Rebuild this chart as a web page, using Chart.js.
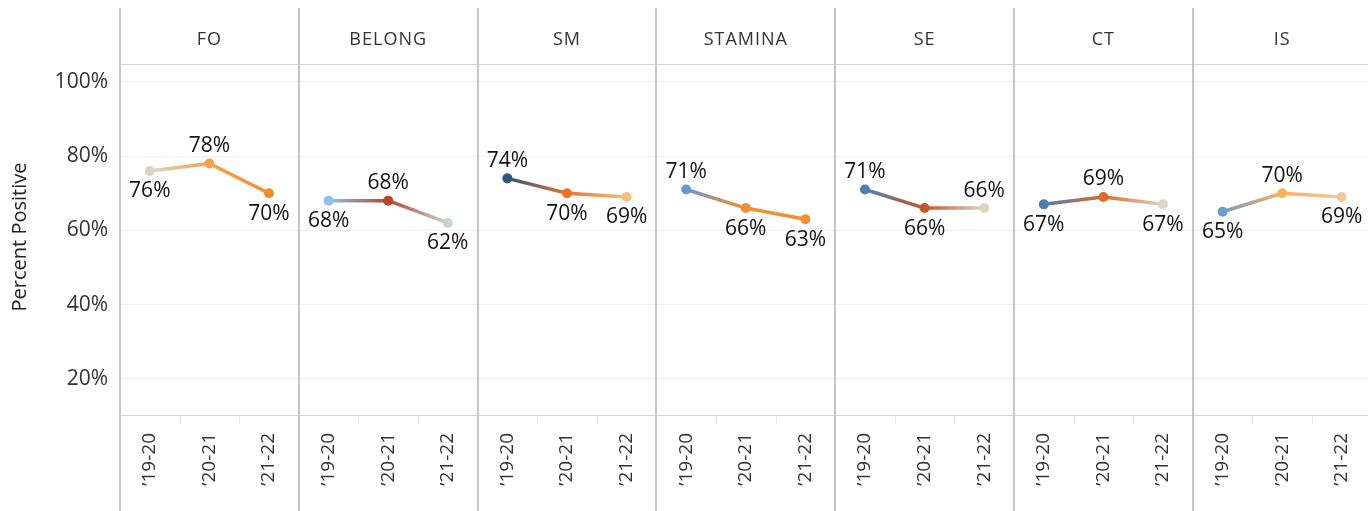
<!DOCTYPE html>
<html>
<head>
<meta charset="utf-8">
<title>Percent Positive by measure</title>
<script src="https://cdn.jsdelivr.net/npm/chart.js@4"></script>
<style>
    html, body { margin: 0; padding: 0; background: #fff; overflow: hidden; }
    canvas { display: block; }
</style>
</head>
<body>
<canvas id="panelChart" width="1368" height="511"></canvas>
<script>
// Measures (one panel each) and school years
const panels = ['FO', 'BELONG', 'SM', 'STAMINA', 'SE', 'CT', 'IS'];
const years = ['\u201919-20', '\u201920-21', '\u201921-22'];

// Percent positive per measure, by year
const FO = [76, 78, 70];
const BELONG = [68, 68, 62];
const SM = [74, 70, 69];
const STAMINA = [71, 66, 63];
const SE = [71, 66, 66];
const CT = [67, 69, 67];
const IS = [65, 70, 69];

const yTicks = [20, 40, 60, 80, 100];

const series = { FO, BELONG, SM, STAMINA, SE, CT, IS };

// Mark colours (orange-blue diverging palette)
const pointColors = {
    FO: ['#d9d4c7', '#f7a04a', '#f28e2b'],
    BELONG: ['#8fc1e3', '#b7472a', '#c8d4d2'],
    SM: ['#2a5783', '#e8742a', '#f8c07e'],
    STAMINA: ['#6599c9', '#f38f30', '#f58f35'],
    SE: ['#4a80b3', '#c9552a', '#ddd3bd'],
    CT: ['#4a7fb2', '#e0682a', '#dcd6c8'],
    IS: ['#6b9fca', '#fbb25e', '#efca9b'],
};

// 1 = label under the point, -1 = label above it
const labelSide = {
    FO: [1, -1, 1],
    BELONG: [1, -1, 1],
    SM: [-1, 1, 1],
    STAMINA: [-1, 1, 1],
    SE: [-1, 1, -1],
    CT: [1, -1, 1],
    IS: [1, -1, 1],
};

const FONT = '"Open Sans", "DejaVu Sans", sans-serif';
const canvas = document.getElementById('panelChart');
const g2d = canvas.getContext('2d');

function segGradient(ctx, colors) {
    const grad = g2d.createLinearGradient(ctx.p0.x, ctx.p0.y, ctx.p1.x, ctx.p1.y);
    grad.addColorStop(0, colors[ctx.p0DataIndex]);
    grad.addColorStop(1, colors[ctx.p1DataIndex]);
    return grad;
}

const datasets = panels.map((name, p) => ({
    label: name,
    data: series[name].map((v, j) => ({ x: p * 3 + j, y: v })),
    pointBackgroundColor: pointColors[name],
    pointBorderColor: pointColors[name],
    pointRadius: 5,
    pointBorderWidth: 0,
    borderWidth: 3.5,
    borderColor: pointColors[name][0],
    segment: { borderColor: ctx => segGradient(ctx, pointColors[name]) },
}));

// Panel frame, headers and y-axis title
const framePlugin = {
    id: 'frame',
    beforeDatasetsDraw(chart) {
        const { ctx, chartArea: a, scales: { x } } = chart;
        ctx.save();
        ctx.strokeStyle = '#d6d6d6';
        ctx.lineWidth = 1;
        ctx.beginPath();
        ctx.moveTo(a.left, a.top + 0.5); ctx.lineTo(a.right, a.top + 0.5);
        ctx.moveTo(a.left, a.bottom - 0.5); ctx.lineTo(a.right, a.bottom - 0.5);
        ctx.stroke();

        // faint band ticks between years
        ctx.strokeStyle = '#ececec';
        ctx.beginPath();
        panels.forEach((_, p) => {
            [0.5, 1.5].forEach(o => {
                const px = Math.round(x.getPixelForValue(p * 3 + o)) + 0.5;
                ctx.moveTo(px, a.bottom); ctx.lineTo(px, a.bottom + 8);
            });
        });
        ctx.stroke();

        // panel separators
        ctx.strokeStyle = '#c6c6c6';
        ctx.lineWidth = 2;
        ctx.beginPath();
        panels.forEach((_, p) => {
            const px = Math.round(x.getPixelForValue(p * 3 - 0.5));
            ctx.moveTo(px, 8); ctx.lineTo(px, chart.height);
        });
        ctx.stroke();

        // headers
        ctx.fillStyle = '#333';
        ctx.font = '18px ' + FONT;
        ctx.textAlign = 'center';
        ctx.textBaseline = 'alphabetic';
        if ('letterSpacing' in ctx) ctx.letterSpacing = '1px';
        panels.forEach((name, p) => {
            ctx.fillText(name, x.getPixelForValue(p * 3 + 1), 45);
        });
        if ('letterSpacing' in ctx) ctx.letterSpacing = '0px';

        // y-axis title
        ctx.translate(20, (a.top + a.bottom) / 2 - 3);
        ctx.rotate(-Math.PI / 2);
        ctx.fillStyle = '#222';
        ctx.font = '20px ' + FONT;
        ctx.textBaseline = 'middle';
        ctx.fillText('Percent Positive', 0, 0);
        ctx.restore();
    },
};

// Value labels above / under each point
const valueLabels = {
    id: 'valueLabels',
    afterDatasetsDraw(chart) {
        const { ctx } = chart;
        ctx.save();
        ctx.fillStyle = '#111';
        ctx.font = '21px ' + FONT;
        ctx.textAlign = 'center';
        ctx.textBaseline = 'alphabetic';
        chart.data.datasets.forEach((ds, i) => {
            const sides = labelSide[ds.label];
            chart.getDatasetMeta(i).data.forEach((pt, j) => {
                const y = pt.y + sides[j] * 19 + 7.5;
                ctx.fillText(series[ds.label][j] + '%', pt.x, y);
            });
        });
        ctx.restore();
    },
};

new Chart(canvas, {
    type: 'line',
    data: { datasets },
    options: {
        responsive: false,
        animation: false,
        layout: { autoPadding: false, padding: { top: 64, left: 0, right: 0, bottom: 0 } },
        plugins: {
            legend: { display: false },
            tooltip: { enabled: false },
        },
        scales: {
            x: {
                type: 'linear',
                min: -0.5,
                // the last panel runs a few pixels past the right edge
                max: panels.length * 3 - 0.56,
                afterBuildTicks: s => {
                    s.ticks = panels.flatMap((_, p) => years.map((_, j) => ({ value: p * 3 + j })));
                },
                afterFit: s => {
                    s.height = 95;
                    s.paddingLeft = 0;
                    s.paddingRight = 0;
                },
                grid: { display: false },
                border: { display: false },
                ticks: {
                    autoSkip: false,
                    minRotation: 90,
                    maxRotation: 90,
                    padding: 9,
                    color: '#333',
                    font: { family: FONT, size: 19 },
                    callback: v => years[v % 3],
                },
            },
            y: {
                min: 10,
                max: 104.8,
                afterBuildTicks: s => { s.ticks = yTicks.map(v => ({ value: v })); },
                afterFit: s => { s.width = 120; },
                grid: { color: '#f0f0f0', drawTicks: false },
                border: { display: false },
                ticks: {
                    color: '#333',
                    padding: 12,
                    font: { family: FONT, size: 21 },
                    callback: v => v + '%',
                },
            },
        },
    },
    plugins: [framePlugin, valueLabels],
});
</script>
</body>
</html>
